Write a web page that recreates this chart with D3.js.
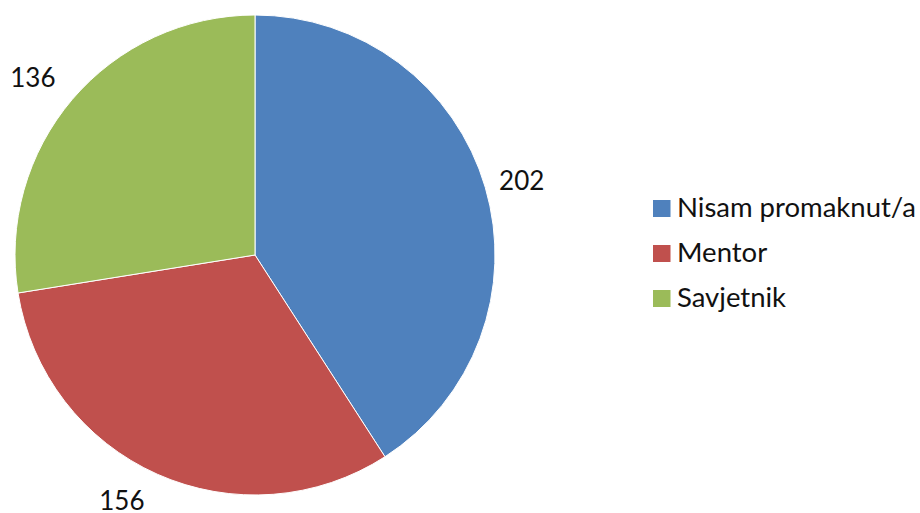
<!DOCTYPE html>
<html>
<head>
<meta charset="utf-8">
<script src="https://cdn.jsdelivr.net/npm/d3@7/dist/d3.min.js"></script>
<style>
  html, body { margin: 0; padding: 0; background: #ffffff; }
  svg { display: block; }
  text { font-family: Lato, "Open Sans", sans-serif; fill: #111; }
</style>
</head>
<body>
<svg id="chart" width="920" height="513"></svg>
<script>
// Promotion status counts
const categories = ["Nisam promaknut/a", "Mentor", "Savjetnik"];
const values = [202, 156, 136];
const colors = ["#4f81bd", "#c0504d", "#9bbb59"];

const W = 920, H = 513;
const cx = 255, cy = 255, radius = 240;

// small per-label adjustments so the outside labels sit clear of the pie
const labelNudge = [[-2, 4], [-19, -11], [-9, 4]];

const svg = d3.select("#chart");
const data = categories.map((c, i) => ({ name: c, value: values[i], color: colors[i] }));

const pie = d3.pie().value(d => d.value).sort(null);
const arcs = pie(data);

const arc = d3.arc().innerRadius(0).outerRadius(radius);
const labelArc = d3.arc().innerRadius(radius * 1.167).outerRadius(radius * 1.167);

const g = svg.append("g").attr("transform", `translate(${cx},${cy})`);

g.selectAll("path.slice")
  .data(arcs)
  .join("path")
  .attr("class", "slice")
  .attr("d", arc)
  .attr("fill", d => d.data.color)
  .attr("stroke", "#ffffff")
  .attr("stroke-width", 1);

// Value labels outside each slice
g.selectAll("text.value")
  .data(arcs)
  .join("text")
  .attr("class", "value")
  .attr("transform", (d, i) => {
    const [x, y] = labelArc.centroid(d);
    return `translate(${x + labelNudge[i][0]},${y + labelNudge[i][1]})`;
  })
  .attr("text-anchor", "middle")
  .attr("dominant-baseline", "central")
  .style("font-size", "26px")
  .text(d => d.data.value);

// Legend
const legend = svg.append("g").attr("transform", "translate(653,200)");
const row = legend.selectAll("g.item")
  .data(data)
  .join("g")
  .attr("class", "item")
  .attr("transform", (d, i) => `translate(0,${i * 45})`);

row.append("rect")
  .attr("width", 17.5)
  .attr("height", 17)
  .attr("fill", d => d.color);

row.append("text")
  .attr("x", 24)
  .attr("y", 17)
  .style("font-size", "27.5px")
  .text(d => d.name);
</script>
</body>
</html>
